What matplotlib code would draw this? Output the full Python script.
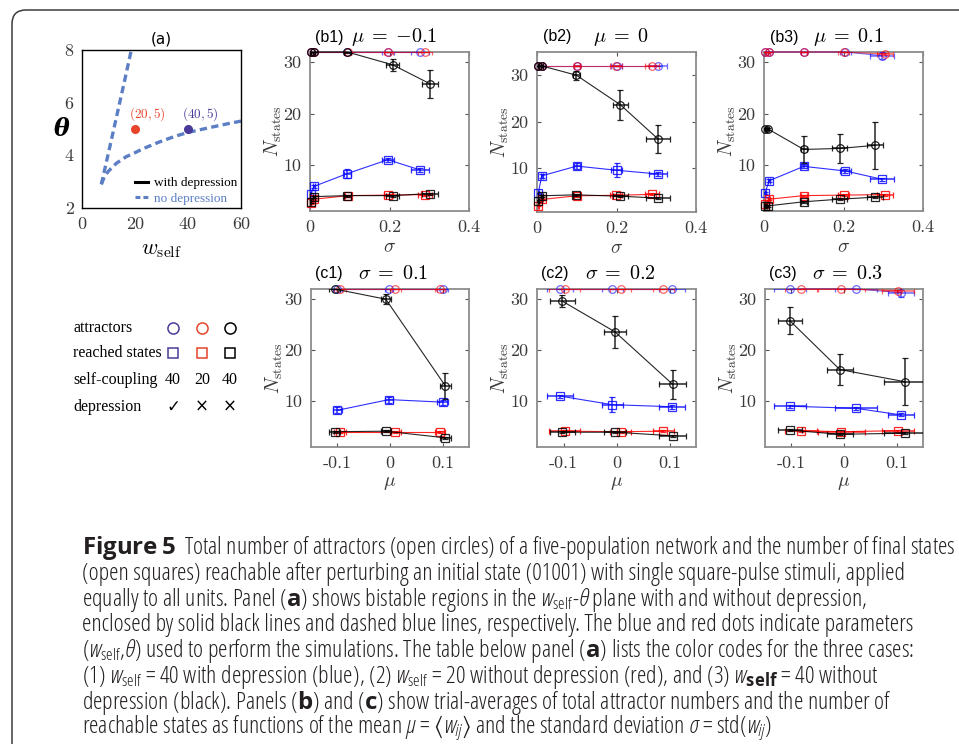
import matplotlib
matplotlib.use('Agg')
import matplotlib.pyplot as plt
from matplotlib import font_manager
from matplotlib.patches import FancyBboxPatch
from matplotlib.transforms import IdentityTransform

W, H = 959, 744

# ---------------- data ----------------
# panel (a): borders of the bistable region without depression
steep_w = [7.3, 10.0, 13.0, 16.0, 18.6]
steep_theta = [2.9, 4.1, 5.45, 6.8, 8.0]
flat_w = [7.3, 8.5, 10, 13, 16.7, 20, 23, 29, 35, 40, 48, 55, 60]
flat_theta = [2.9, 3.2, 3.4, 3.7, 3.95, 4.1, 4.25, 4.5, 4.72, 4.87, 5.05, 5.2, 5.3]
sim_w = [20, 40]
sim_theta = [5, 5]
sim_labels = ['$(20,5)$', '$(40,5)$']

# rows of every list: blue (w=40, depression), red (w=20), black (w=40)
# (b) panels: x = measured sigma
b_mu = ['-0.1', '0', '0.1']
b1_sig = [[0.002, 0.010, 0.094, 0.196, 0.277],
          [0.002, 0.010, 0.096, 0.197, 0.290],
          [0.002, 0.010, 0.094, 0.208, 0.302]]
b1_sig_err = [[0.001, 0.003, 0.008, 0.015, 0.022],
              [0.001, 0.003, 0.008, 0.012, 0.018],
              [0.001, 0.003, 0.008, 0.017, 0.019]]
b1_att = [[32, 32, 32, 32, 32], [32, 32, 32, 32, 32], [32, 32, 32, 29.5, 25.8]]
b1_att_err = [[0, 0, 0, 0, 0], [0, 0, 0, 0, 0], [0, 0, 0.2, 1.2, 2.7]]
b1_reach = [[4.3, 5.8, 8.3, 11.0, 9.0], [2.5, 3.3, 4.0, 4.1, 4.2], [2.8, 3.8, 4.0, 4.0, 4.4]]
b1_reach_err = [[0.2, 0.3, 0.8, 0.4, 0.3], [0.2, 0.2, 0.2, 0.2, 0.2], [0.2, 0.2, 0.2, 0.2, 0.2]]

b2_sig = [[0.003, 0.012, 0.100, 0.200, 0.305],
          [0.003, 0.012, 0.100, 0.198, 0.290],
          [0.003, 0.012, 0.099, 0.210, 0.305]]
b2_sig_err = [[0.001, 0.003, 0.008, 0.015, 0.022],
              [0.001, 0.003, 0.008, 0.015, 0.018],
              [0.001, 0.003, 0.008, 0.020, 0.030]]
b2_att = [[32, 32, 32, 32, 32], [32, 32, 32, 32, 32], [32, 32, 30.0, 23.6, 16.2]]
b2_att_err = [[0, 0, 0, 0, 0], [0, 0, 0, 0, 0], [0, 0, 1.0, 3.2, 3.0]]
b2_reach = [[4.5, 8.3, 10.4, 9.5, 8.7], [1.9, 3.2, 4.0, 4.1, 4.3], [2.9, 4.0, 4.2, 3.9, 3.5]]
b2_reach_err = [[0.2, 0.4, 0.6, 1.5, 0.4], [0.2, 0.2, 0.2, 0.2, 0.2], [0.2, 0.2, 0.2, 0.2, 0.2]]

b3_sig = [[0.003, 0.013, 0.100, 0.205, 0.296],
          [0.003, 0.013, 0.100, 0.200, 0.305],
          [0.003, 0.010, 0.100, 0.190, 0.280]]
b3_sig_err = [[0.001, 0.003, 0.008, 0.015, 0.030],
              [0.001, 0.003, 0.008, 0.015, 0.020],
              [0.001, 0.003, 0.008, 0.020, 0.020]]
b3_att = [[32, 32, 32, 32, 31.3], [32, 32, 32, 32, 31.6], [17, 17, 13.0, 13.2, 13.8]]
b3_att_err = [[0, 0, 0, 0, 0.7], [0, 0, 0, 0, 0.2], [0.2, 0.2, 2.6, 2.8, 4.6]]
b3_reach = [[4.6, 6.9, 9.7, 8.8, 7.2], [2.3, 3.3, 4.0, 4.1, 4.2], [1.9, 2.0, 2.8, 3.3, 3.7]]
b3_reach_err = [[0.2, 0.3, 0.4, 0.4, 0.3], [0.2, 0.2, 0.2, 0.2, 0.2], [0.2, 0.2, 0.2, 0.2, 0.2]]

# (c) panels: x = measured mu
c_sigma = ['0.1', '0.2', '0.3']
c1_mu = [[-0.100, -0.002, 0.100], [-0.095, 0.010, 0.095], [-0.105, -0.008, 0.105]]
c1_mu_err = [[0.008, 0.008, 0.010], [0.012, 0.010, 0.010], [0.010, 0.010, 0.010]]
c1_att = [[32, 32, 32], [32, 32, 32], [32, 30.0, 13.0]]
c1_att_err = [[0, 0, 0], [0, 0, 0], [0, 1.0, 2.5]]
c1_reach = [[8.2, 10.3, 9.8], [4.0, 4.0, 4.0], [4.0, 4.1, 2.8]]
c1_reach_err = [[0.6, 0.6, 0.5], [0.2, 0.2, 0.2], [0.2, 0.2, 0.2]]

c2_mu = [[-0.107, -0.008, 0.105], [-0.098, 0.008, 0.088], [-0.102, -0.003, 0.106]]
c2_mu_err = [[0.025, 0.020, 0.025], [0.030, 0.020, 0.020], [0.023, 0.020, 0.025]]
c2_att = [[32, 32, 32], [32, 32, 32], [29.6, 23.6, 13.3]]
c2_att_err = [[0, 0, 0], [0, 0, 0], [1.2, 3.2, 2.8]]
c2_reach = [[11.0, 9.3, 8.9], [4.1, 4.0, 4.1], [3.9, 3.9, 3.2]]
c2_reach_err = [[0.3, 1.5, 0.4], [0.2, 0.2, 0.2], [0.2, 0.2, 0.2]]

c3_mu = [[-0.103, 0.022, 0.108], [-0.082, -0.005, 0.103], [-0.103, -0.008, 0.116]]
c3_mu_err = [[0.030, 0.040, 0.025], [0.030, 0.045, 0.030], [0.023, 0.025, 0.040]]
c3_att = [[32, 32, 31.3], [32, 32, 31.7], [25.8, 16.2, 13.8]]
c3_att_err = [[0, 0, 0.8], [0, 0, 0.2], [2.7, 3.1, 4.6]]
c3_reach = [[9.0, 8.6, 7.3], [4.2, 4.0, 4.2], [4.3, 3.5, 3.7]]
c3_reach_err = [[0.3, 0.3, 0.3], [0.2, 0.2, 0.2], [0.2, 0.2, 0.2]]

case_colors = ['#0a0aff', '#ff0000', '#000000']
circle_alpha = [0.6, 0.6, 0.85]
table_colors = ['#4a3a9a', '#e8442a', '#000000']
self_coupling = ['40', '20', '40']
depression = ['\u2713', '\u00d7', '\u00d7']
table_rows = ['attractors', 'reached states', 'self-coupling', 'depression']

# ---------------- fonts ----------------
# caption: prefer a condensed sans with a regular weight if one is installed
cond = {}
for f in font_manager.fontManager.ttflist:
    if f.stretch == 'condensed':
        cond.setdefault(f.name, set()).add(f.weight)
cap_font, cap_stretch = 'Open Sans', 'normal'
for name in ('Liberation Sans Narrow', 'Noto Sans', 'Roboto', 'Open Sans'):
    if name in cond and (400 in cond[name] or 'normal' in cond[name] or 'regular' in cond[name]):
        cap_font, cap_stretch = name, 'condensed'
        break
else:
    for name in ('Noto Sans', 'Roboto', 'Open Sans'):
        if name in cond:
            cap_font, cap_stretch = name, 'condensed'
            break
pat = cap_font if cap_stretch == 'normal' else cap_font + ':stretch=' + cap_stretch
plt.rcParams['mathtext.fontset'] = 'custom'
plt.rcParams['mathtext.fallback'] = 'stixsans'
plt.rcParams['mathtext.rm'] = pat
plt.rcParams['mathtext.it'] = pat + ':italic'
plt.rcParams['mathtext.bf'] = pat + ':bold'

GRAY = '#3a3a3a'
fig = plt.figure(figsize=(W / 100, H / 100), dpi=100)


def px_axes(l, t, r, b):
    return fig.add_axes([l / W, 1 - b / H, (r - l) / W, (b - t) / H])


def style(ax):
    for s in ax.spines.values():
        s.set_color('#8c8c8c')
        s.set_linewidth(1.3)
    ax.tick_params(direction='in', length=3, width=0.8, color='#555555',
                   top=True, right=True, labelcolor=GRAY, pad=6)


def draw_series(ax, pos, pos_err, att, att_err, reach, reach_err):
    for k, col in enumerate(case_colors):
        for yv, ye, mk, a in ((att[k], att_err[k], 'o', circle_alpha[k]),
                              (reach[k], reach_err[k], 's', 0.85)):
            eb = ax.errorbar(pos[k], yv, xerr=pos_err[k], yerr=ye, color=col, marker=mk,
                             mfc='none', ms=5.5, mew=0.9, lw=0.8, elinewidth=1.1,
                             capsize=2, capthick=1.1, alpha=a, zorder=3 + k)
            eb.lines[0].set_clip_on(False)


def panel_title(ax, tag, label, x_tag, x_lab, y):
    ax.text(x_tag, y, tag, transform=ax.transAxes, fontsize=11.5,
            family='Liberation Sans', va='center')
    ax.text(x_lab, y, label, transform=ax.transAxes, fontsize=14.5,
            va='center', math_fontfamily='cm')


# ---------------- panel (a) ----------------
ax = px_axes(82, 50, 241, 208)
ax.plot(steep_w, steep_theta, color='#5b7ec4', lw=2.4, dashes=(2.2, 1.3))
ax.plot(flat_w, flat_theta, color='#5b7ec4', lw=2.4, dashes=(2.2, 1.3))
ax.plot([], [], color='black', lw=2.2, label='with depression')
ax.plot([], [], color='#5b7ec4', lw=2.2, dashes=(1.6, 1.0), label='no depression')
for w, th, lab, col in zip(sim_w, sim_theta, sim_labels, [table_colors[1], table_colors[0]]):
    ax.plot(w, th, 'o', color=col, ms=5.5, zorder=5)
    ax.text(w + 4.8, th + 0.55, lab, color=col, fontsize=9.5, ha='center', va='center',
            math_fontfamily='cm')
ax.set_xlim(0, 60)
ax.set_ylim(2, 8)
ax.set_xticks([0, 20, 40, 60], ['0', '20', '40', '60'], fontfamily='cmr10', fontsize=13)
ax.set_yticks([2, 4, 6, 8], ['2', '4', '6', '8'], fontfamily='cmr10', fontsize=13)
ax.tick_params(length=0, labelcolor=GRAY, pad=6)
for s in ax.spines.values():
    s.set_linewidth(1.0)
ax.set_xlabel(r'$w_{\rm self}$', fontsize=16, math_fontfamily='cm', labelpad=6)
ax.set_ylabel('\u03b8', fontsize=17, family='DejaVu Serif', style='italic',
              weight='bold', rotation=0, labelpad=2, va='center')
ax.set_title('(a)', fontsize=11, pad=5)
leg = ax.legend(loc='lower right', bbox_to_anchor=(1.03, -0.03), frameon=False,
                handlelength=1.0, handletextpad=0.5, borderaxespad=0.2, labelspacing=0.25,
                prop={'family': 'Liberation Serif', 'size': 9.5})
leg.get_texts()[1].set_color('#5b7ec4')

# ---------------- panels (b) ----------------
b_boxes = [(310, 52, 469, 211), (537, 52, 696, 212), (764, 52, 923, 211)]
b_data = [(b1_sig, b1_sig_err, b1_att, b1_att_err, b1_reach, b1_reach_err),
          (b2_sig, b2_sig_err, b2_att, b2_att_err, b2_reach, b2_reach_err),
          (b3_sig, b3_sig_err, b3_att, b3_att_err, b3_reach, b3_reach_err)]
b_ylims = [(1, 32), (0.5, 35), (1, 32)]
b_title_x = [(0.03, 0.26), (0.04, 0.35), (0.04, 0.31)]
for i, (box, d, yl, tx) in enumerate(zip(b_boxes, b_data, b_ylims, b_title_x)):
    ax = px_axes(*box)
    draw_series(ax, *d)
    ax.set_xlim(0, 0.4)
    ax.set_ylim(*yl)
    ax.set_xticks([0, 0.2, 0.4], ['0', '0.2', '0.4'], fontfamily='cmr10', fontsize=13)
    ax.set_yticks([10, 20, 30], ['10', '20', '30'], fontfamily='cmr10', fontsize=13)
    style(ax)
    ax.set_xlabel(r'$\sigma$', fontsize=14, color=GRAY, math_fontfamily='cm', labelpad=2)
    ax.set_ylabel(r'$N_{\rm states}$', fontsize=14, color=GRAY, math_fontfamily='cm', labelpad=0)
    panel_title(ax, f'(b{i + 1})', rf'$\mu\;=\;{{{b_mu[i]}}}$', tx[0], tx[1], 1.094)

# ---------------- panels (c) ----------------
c_boxes = [(311, 289, 469, 447), (537, 289, 696, 447), (765, 289, 923, 447)]
c_data = [(c1_mu, c1_mu_err, c1_att, c1_att_err, c1_reach, c1_reach_err),
          (c2_mu, c2_mu_err, c2_att, c2_att_err, c2_reach, c2_reach_err),
          (c3_mu, c3_mu_err, c3_att, c3_att_err, c3_reach, c3_reach_err)]
for i, (box, d) in enumerate(zip(c_boxes, c_data)):
    ax = px_axes(*box)
    draw_series(ax, *d)
    ax.set_xlim(-0.15, 0.15)
    ax.set_ylim(1, 32)
    ax.set_xticks([-0.1, 0, 0.1], ['-0.1', '0', '0.1'], fontfamily='cmr10', fontsize=13)
    ax.set_yticks([10, 20, 30], ['10', '20', '30'], fontfamily='cmr10', fontsize=13)
    style(ax)
    ax.set_xlabel(r'$\mu$', fontsize=14, color=GRAY, math_fontfamily='cm', labelpad=2)
    ax.set_ylabel(r'$N_{\rm states}$', fontsize=14, color=GRAY, math_fontfamily='cm', labelpad=0)
    panel_title(ax, f'(c{i + 1})', rf'$\sigma\;=\;{c_sigma[i]}$', 0.025, 0.30, 1.10)

# ---------------- colour-code table ----------------
tab = fig.add_axes([0, 0, 1, 1], zorder=-1)
tab.set_xlim(0, W)
tab.set_ylim(H, 0)
tab.axis('off')
row_y = [328, 353, 380, 407]
col_x = [173, 202, 230]
for y, name in zip(row_y, table_rows):
    tab.text(73, y, name, fontsize=11.5, family='Liberation Serif', va='center')
for x, col, sc, dep in zip(col_x, table_colors, self_coupling, depression):
    tab.plot(x, row_y[0], 'o', mfc='none', mec=col, ms=8, mew=1.1)
    tab.plot(x, row_y[1], 's', mfc='none', mec=col, ms=7.5, mew=1.1)
    tab.text(x, row_y[2], sc, fontsize=11.5, family='Liberation Serif', ha='center', va='center')
    tab.text(x, row_y[3], dep, fontsize=12, family=['DejaVu Sans'], ha='center', va='center')

# ---------------- frame ----------------
frame = FancyBboxPatch((12, -60), 1100, H - 10 + 60, boxstyle='round,pad=0,rounding_size=14',
                       transform=IdentityTransform(), fill=False, ec='#3c3c3c', lw=1.1)
fig.patches.append(frame)

# ---------------- caption ----------------
cap_lines = [
    r'$\mathbf{Figure\ 5}$  Total number of attractors (open circles) of a five-population network and the number of final states',
    '(open squares) reachable after perturbing an initial state (01001) with single square-pulse stimuli, applied',
    r'equally to all units. Panel ($\mathbf{a}$) shows bistable regions in the $w_{\rm self}$-$\theta$ plane with and without depression,',
    'enclosed by solid black lines and dashed blue lines, respectively. The blue and red dots indicate parameters',
    r'($w_{\rm self}$,$\theta$) used to perform the simulations. The table below panel ($\mathbf{a}$) lists the color codes for the three cases:',
    r'(1) $w_{\rm self}$ = 40 with depression (blue), (2) $w_{\rm self}$ = 20 without depression (red), and (3) $w_{\mathbf{self}}$ = 40 without',
    r'depression (black). Panels ($\mathbf{b}$) and ($\mathbf{c}$) show trial-averages of total attractor numbers and the number of',
    r'reachable states as functions of the mean $\mu$ = $\langle w_{ij}\rangle$ and the standard deviation $\sigma$ = std($w_{ij}$)',
]
cap_texts = [fig.text(82 / W, 1 - (548 + 25.8 * i) / H, s, fontsize=12, family=cap_font,
                      stretch=cap_stretch, color='#231f20', va='center')
             for i, s in enumerate(cap_lines)]
fig.canvas.draw()
scale = 873 / cap_texts[0].get_window_extent().width
for t in cap_texts:
    t.set_fontsize(12 * scale)

fig.savefig('out.png', dpi=100)
